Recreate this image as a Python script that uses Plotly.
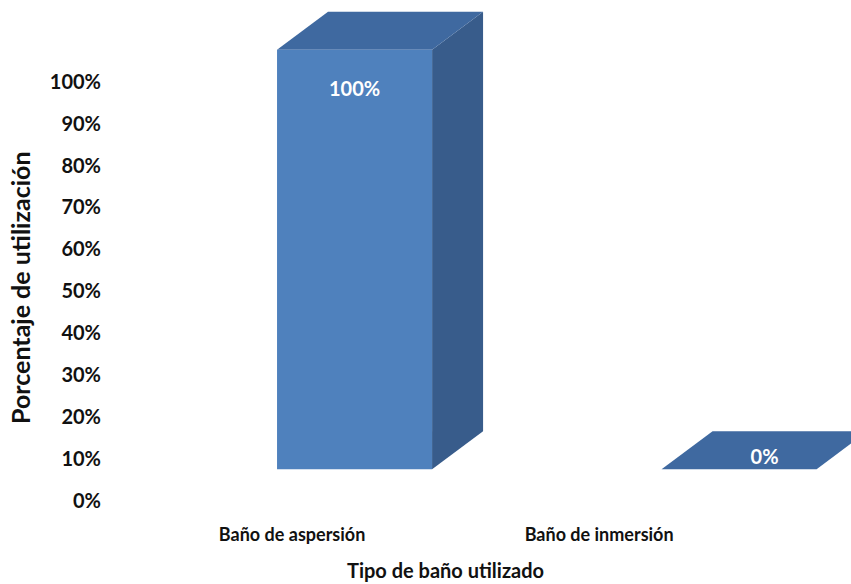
import plotly.graph_objects as go

# ---- data ----
categories = ["Baño de aspersión", "Baño de inmersión"]
values = [100, 0]          # percent
value_labels = ["100%", "0%"]
y_ticks = [0, 10, 20, 30, 40, 50, 60, 70, 80, 90, 100]
y_ticktext = [f"{v}%" for v in y_ticks]

# ---- 3D-look geometry (style) ----
base = 7.6        # front-face floor in axis units
half_w = 0.2016   # half bar width in category units
dx, dy = 0.1326, 9.06   # depth offset
front_col = "#4F81BD"
top_col = "#3F69A0"
side_col = "#385C8B"
FONT = "Lato"

fig = go.Figure()
for i, (cat, v) in enumerate(zip(categories, values)):
    x0, x1 = i - half_w, i + half_w
    y0, y1 = base, base + v
    # side face
    if v > 0:
        fig.add_trace(go.Scatter(
            x=[x1, x1 + dx, x1 + dx, x1, x1], y=[y0, y0 + dy, y1 + dy, y1, y0],
            fill="toself", fillcolor=side_col, mode="lines", line=dict(width=0),
            hoverinfo="skip", showlegend=False))
    # top face
    fig.add_trace(go.Scatter(
        x=[x0, x1, x1 + dx, x0 + dx, x0], y=[y1, y1, y1 + dy, y1 + dy, y1],
        fill="toself", fillcolor=top_col, mode="lines", line=dict(width=0),
        hoverinfo="skip", showlegend=False))
    # front face
    if v > 0:
        fig.add_trace(go.Scatter(
            x=[x0, x1, x1, x0, x0], y=[y0, y0, y1, y1, y0],
            fill="toself", fillcolor=front_col, mode="lines", line=dict(width=0),
            hoverinfo="skip", showlegend=False, name=cat))

# value labels
lab_x, lab_y = [], []
for i, v in enumerate(values):
    if v > 0:
        lab_x.append(i)
        lab_y.append(base + v - 9.8)
    else:
        lab_x.append(i + dx / 2)
        lab_y.append(base + v + dy / 2 - 2.2)
fig.add_trace(go.Scatter(
    x=lab_x, y=lab_y, mode="text", text=value_labels,
    textfont=dict(family=FONT, size=20, color="white", weight="bold"),
    hoverinfo="skip", showlegend=False))

fig.update_layout(
    width=851, height=584,
    margin=dict(l=110, r=0, t=2, b=62),
    paper_bgcolor="white", plot_bgcolor="white",
    xaxis=dict(range=[-0.636, 1.291], showgrid=False, zeroline=False, showline=False,
               tickmode="array", tickvals=[-0.1625, 0.636], ticktext=categories,
               ticks="", tickfont=dict(family=FONT, size=18, color="#111", weight="bold")),
    yaxis=dict(range=[-5, 119], showgrid=False, zeroline=False, showline=False,
               tickmode="array", tickvals=y_ticks, ticktext=y_ticktext, ticks="",
               ticklabelstandoff=8,
               tickfont=dict(family=FONT, size=20, color="#111", weight="bold")),
    annotations=[
        dict(text="Tipo de baño utilizado", xref="paper", yref="paper",
             x=0.4534, y=-0.0923, xanchor="center", yanchor="middle", showarrow=False,
             font=dict(family=FONT, size=20, color="#111", weight="bold")),
        dict(text="Porcentaje de utilización", xref="paper", yref="paper",
             x=-0.1215, y=0.45, xanchor="center", yanchor="middle", showarrow=False,
             textangle=-90,
             font=dict(family=FONT, size=25, color="#111", weight="bold")),
    ],
)

fig.write_html("out.html")
